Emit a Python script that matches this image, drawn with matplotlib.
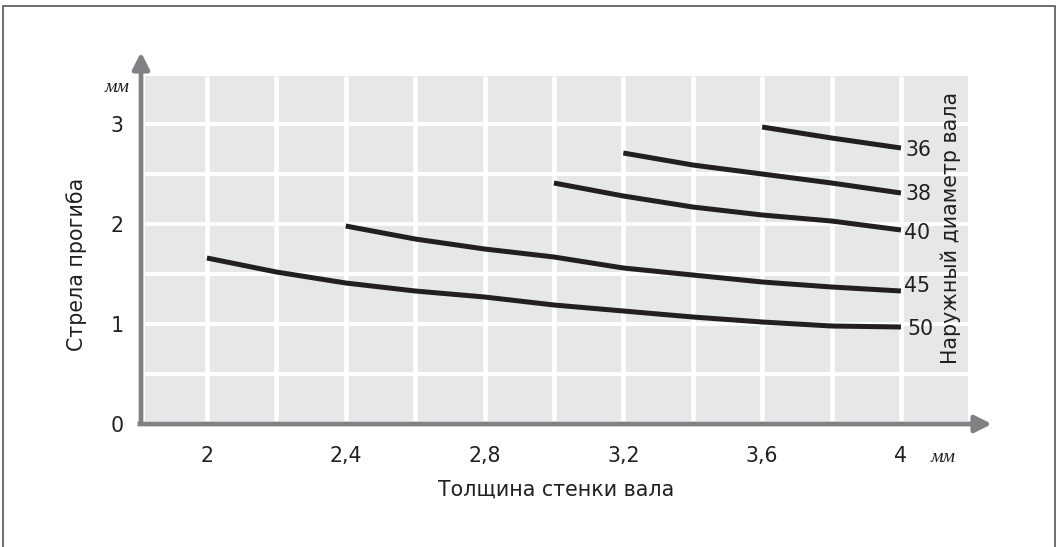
import matplotlib
matplotlib.use("Agg")
import matplotlib.pyplot as plt
from matplotlib.patches import Rectangle

# ---------------- data ----------------
x_ticks = [2.0, 2.4, 2.8, 3.2, 3.6, 4.0]
x_tick_labels = ["2", "2,4", "2,8", "3,2", "3,6", "4"]
y_ticks = [0, 1, 2, 3]
y_tick_labels = ["0", "1", "2", "3"]

diameters = ["36", "38", "40", "45", "50"]
x_36 = [3.6, 3.8, 4.0]
y_36 = [2.97, 2.86, 2.76]
x_38 = [3.2, 3.4, 3.6, 3.8, 4.0]
y_38 = [2.71, 2.59, 2.50, 2.41, 2.31]
x_40 = [3.0, 3.2, 3.4, 3.6, 3.8, 4.0]
y_40 = [2.41, 2.28, 2.17, 2.09, 2.03, 1.94]
x_45 = [2.4, 2.6, 2.8, 3.0, 3.2, 3.4, 3.6, 3.8, 4.0]
y_45 = [1.98, 1.85, 1.75, 1.67, 1.56, 1.49, 1.42, 1.37, 1.33]
x_50 = [2.0, 2.2, 2.4, 2.6, 2.8, 3.0, 3.2, 3.4, 3.6, 3.8, 4.0]
y_50 = [1.66, 1.52, 1.41, 1.33, 1.27, 1.19, 1.13, 1.07, 1.02, 0.98, 0.97]

x_label = "Толщина стенки вала"
y_label = "Стрела прогиба"
legend_title = "Наружный диаметр вала"
unit = "мм"

series = [(x_36, y_36), (x_38, y_38), (x_40, y_40), (x_45, y_45), (x_50, y_50)]
label_dx = [0.012, 0.012, 0.008, 0.008, 0.02]
label_dy = [-0.02, -0.01, -0.03, 0.05, -0.02]

# ---------------- style ----------------
W, H = 1061, 547
DPI = 100
GRAY_BG = "#e6e7e8"
AXIS_C = "#808184"
LINE_C = "#231f20"
TEXT_C = "#231f20"
FS = 14.8

plt.rcParams["font.family"] = ["DejaVu Sans"]

fig = plt.figure(figsize=(W / DPI, H / DPI), dpi=DPI)
fig.patch.set_facecolor("white")

# outer frame (bottom edge runs off the image)
fig.patches.append(Rectangle((2.5 / W, -10 / H), (1055 - 2.5) / W, (541 + 10) / H,
                             transform=fig.transFigure, fill=False,
                             edgecolor="#555555", lw=1.2))

# axes: pixel x 141..992, pixel y 424..52
x0p, x1p, y0p, y1p = 141, 992, 424, 52
ax = fig.add_axes([x0p / W, (H - y0p) / H, (x1p - x0p) / W, (y0p - y1p) / H])
ax.set_facecolor("none")
xmin = 1.81
xmax = xmin + (x1p - x0p) / 347.0
ax.set_xlim(xmin, xmax)
ax.set_ylim(0, (y0p - y1p) / 100.0)
for s in ax.spines.values():
    s.set_visible(False)

# gray background panel with white grid
gx0, gx1, gy0, gy1 = 1.822, 4.193, 0.035, 3.48
ax.add_patch(Rectangle((gx0, gy0), gx1 - gx0, gy1 - gy0, facecolor=GRAY_BG,
                       edgecolor="none", zorder=0))
grid_x = [2.0 + 0.2 * i for i in range(11)]
grid_y = [0.5 * i for i in range(1, 7)]
ax.vlines(grid_x, gy0, gy1, colors="white", lw=3.3, zorder=1)
ax.hlines(grid_y, gx0, gx1, colors="white", lw=2.8, zorder=1)

# axes arrows
arrow_kw = dict(arrowstyle="-|>,head_length=0.5,head_width=0.25", lw=3.4,
                color=AXIS_C, shrinkA=0, shrinkB=0, mutation_scale=20,
                capstyle="butt")
ax.annotate("", xy=(xmax, 0), xytext=(1.80, 0), arrowprops=arrow_kw,
            annotation_clip=False, zorder=3)
ax.annotate("", xy=(xmin, ax.get_ylim()[1]), xytext=(xmin, -0.02),
            arrowprops=arrow_kw, annotation_clip=False, zorder=3)

# curves
for (xs, ys), d, dx, dy in zip(series, diameters, label_dx, label_dy):
    ax.plot(xs, ys, color=LINE_C, lw=3.6, solid_capstyle="butt", zorder=4)
    ax.text(xs[-1] + dx, ys[-1] + dy, d, fontsize=FS, color=TEXT_C,
            ha="left", va="center", zorder=5)

# ticks
ax.set_xticks(x_ticks, x_tick_labels)
ax.set_yticks(y_ticks, y_tick_labels)
ax.tick_params(axis="both", length=0, labelsize=FS, colors=TEXT_C)
ax.tick_params(axis="x", pad=15.5)
ax.tick_params(axis="y", pad=12.5)

# axis labels
ax.set_xlabel(x_label, fontsize=FS, color=TEXT_C)
ax.xaxis.set_label_coords((556 - x0p) / (x1p - x0p), (y0p - 490) / (y0p - y1p))
ax.xaxis.label.set_verticalalignment("center")
ax.set_ylabel(y_label, fontsize=FS, color=TEXT_C)
ax.yaxis.set_label_coords((77 - x0p) / (x1p - x0p), (y0p - 264) / (y0p - y1p))
ax.yaxis.label.set_verticalalignment("center")

# legend title (rotated) inside the panel
ax.text((951 - x0p) / (x1p - x0p), (y0p - 228) / (y0p - y1p), legend_title,
        transform=ax.transAxes, rotation=90, fontsize=FS, color=TEXT_C,
        ha="center", va="center", zorder=5)

# units
unit_kw = dict(fontsize=14, style="italic", family=["Liberation Serif"],
               color=TEXT_C, ha="center", va="center")
ax.text(1.741, 3.36, unit, **unit_kw)
ax.text(4.121, -0.33, unit, **unit_kw)

fig.savefig("out.png", dpi=DPI)
